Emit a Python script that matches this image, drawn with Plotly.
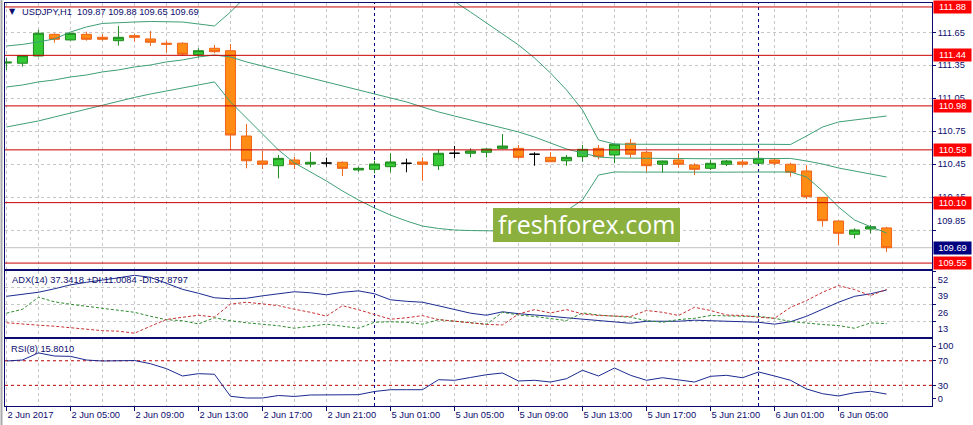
import plotly.graph_objects as go

# ---------------- data (USDJPY H1, bars 0..55) ----------------
opens = [111.370, 111.368, 111.434, 111.631, 111.580, 111.631, 111.604, 111.573, 111.619, 111.589,
         111.550, 111.550, 111.446, 111.504, 111.482, 110.706, 110.479, 110.436, 110.488, 110.451,
         110.460, 110.467, 110.397, 110.403, 110.427, 110.458, 110.470, 110.436, 110.549, 110.549,
         110.558, 110.594, 110.594, 110.540, 110.512, 110.481, 110.518, 110.594, 110.533, 110.640,
         110.558, 110.449, 110.488, 110.442, 110.412, 110.449, 110.470, 110.458, 110.488, 110.449,
         110.388, 110.148, 109.933, 109.812, 109.860, 109.870]
highs = [111.416, 111.443, 111.671, 111.640, 111.645, 111.655, 111.634, 111.707, 111.634, 111.662,
         111.573, 111.559, 111.504, 111.534, 111.543, 110.815, 110.572, 110.533, 110.518, 110.558,
         110.509, 110.475, 110.427, 110.482, 110.549, 110.500, 110.512, 110.585, 110.615, 110.594,
         110.594, 110.724, 110.624, 110.558, 110.558, 110.533, 110.624, 110.624, 110.635, 110.679,
         110.572, 110.482, 110.543, 110.458, 110.488, 110.488, 110.488, 110.549, 110.497, 110.463,
         110.442, 110.150, 109.935, 109.866, 109.897, 109.880]
lows = [111.307, 111.337, 111.430, 111.555, 111.575, 111.573, 111.573, 111.528, 111.564, 111.525,
        111.464, 111.434, 111.422, 111.459, 110.579, 110.412, 110.406, 110.321, 110.406, 110.421,
        110.427, 110.342, 110.381, 110.367, 110.376, 110.376, 110.299, 110.397, 110.503, 110.512,
        110.512, 110.585, 110.497, 110.436, 110.472, 110.436, 110.472, 110.494, 110.458, 110.509,
        110.381, 110.372, 110.418, 110.351, 110.397, 110.433, 110.427, 110.452, 110.442, 110.336,
        110.133, 109.881, 109.714, 109.775, 109.821, 109.650]
closes = [111.378, 111.437, 111.641, 111.586, 111.640, 111.586, 111.586, 111.604, 111.604, 111.559,
          111.541, 111.450, 111.482, 111.473, 110.715, 110.481, 110.449, 110.503, 110.449, 110.467,
          110.460, 110.412, 110.412, 110.451, 110.470, 110.458, 110.449, 110.549, 110.549, 110.570,
          110.588, 110.615, 110.512, 110.540, 110.472, 110.512, 110.585, 110.518, 110.631, 110.540,
          110.436, 110.479, 110.449, 110.403, 110.458, 110.479, 110.449, 110.503, 110.458, 110.376,
          110.154, 109.936, 109.821, 109.851, 109.881, 109.690]

bb_upper = [111.525, 111.539, 111.562, 111.589, 111.652, 111.698, 111.730, 111.739, 111.743, 111.748,
            111.748, 111.743, 111.725, 111.707, 111.834, 111.980, 112.000, 112.050, 112.080, 112.090,
            112.090, 112.090, 112.100, 112.100, 112.090, 112.070, 112.050, 112.000, 111.930, 111.834,
            111.734, 111.634, 111.534, 111.416, 111.279, 111.125, 110.943, 110.670, 110.633, 110.631,
            110.630, 110.630, 110.629, 110.629, 110.628, 110.629, 110.630, 110.631, 110.631, 110.629,
            110.706, 110.788, 110.834, 110.852, 110.870, 110.888]
bb_middle = [111.152, 111.170, 111.198, 111.216, 111.243, 111.261, 111.289, 111.307, 111.334, 111.352,
             111.380, 111.398, 111.425, 111.443, 111.425, 111.380, 111.343, 111.307, 111.270, 111.234,
             111.198, 111.161, 111.125, 111.088, 111.052, 111.016, 110.970, 110.925, 110.888, 110.852,
             110.815, 110.779, 110.743, 110.697, 110.642, 110.588, 110.552, 110.515, 110.506, 110.504,
             110.503, 110.501, 110.500, 110.499, 110.499, 110.500, 110.502, 110.503, 110.504, 110.502,
             110.479, 110.451, 110.415, 110.388, 110.360, 110.333]
bb_lower = [110.788, 110.815, 110.843, 110.879, 110.915, 110.952, 110.988, 111.025, 111.057, 111.088,
            111.116, 111.143, 111.170, 111.198, 111.016, 110.870, 110.724, 110.579, 110.461, 110.379,
            110.297, 110.206, 110.124, 110.051, 109.987, 109.933, 109.887, 109.865, 109.851, 109.846,
            109.842, 109.842, 109.842, 109.862, 109.930, 110.030, 110.124, 110.351, 110.379, 110.378,
            110.377, 110.376, 110.376, 110.375, 110.376, 110.377, 110.378, 110.379, 110.380, 110.379,
            110.333, 110.206, 110.060, 109.942, 109.881, 109.824]

adx = [32.4, 34.0, 35.6, 38.3, 41.4, 43.4, 45.0, 46.9, 48.9, 47.3, 42.6, 37.9, 34.8, 31.3, 30.5,
       30.9, 32.8, 34.4, 36.0, 35.2, 33.6, 35.6, 36.7, 34.4, 29.7, 28.5, 27.8, 25.0, 22.3, 19.2,
       17.6, 20.3, 18.8, 18.0, 16.8, 15.6, 14.5, 13.7, 12.1, 11.3, 12.9, 12.9, 12.9, 13.7, 13.3,
       12.9, 12.5, 12.1, 10.6, 12.5, 16.8, 22.3, 27.8, 32.4, 34.4, 37.3]
plus_di = [19.2, 22.3, 31.7, 28.1, 26.2, 24.6, 22.7, 21.5, 19.9, 16.8, 14.1, 13.3, 10.8, 15.6, 13.3,
           11.7, 10.6, 9.4, 7.4, 9.0, 10.6, 9.0, 7.4, 12.1, 12.5, 12.1, 10.6, 14.1, 12.9, 11.7,
           10.6, 19.9, 17.8, 16.6, 15.2, 13.4, 19.4, 17.8, 16.8, 16.0, 13.4, 12.1, 14.2, 15.2, 17.4,
           17.0, 16.8, 16.8, 15.2, 12.7, 11.3, 10.3, 9.5, 7.4, 11.6, 11.0]
minus_di = [11.7, 10.6, 9.8, 9.0, 7.8, 6.6, 5.5, 5.1, 3.5, 9.0, 14.3, 16.0, 17.6, 16.2, 26.3,
            27.8, 26.6, 25.1, 22.3, 19.9, 16.9, 25.1, 21.9, 17.9, 14.5, 15.6, 17.3, 14.2, 12.9, 11.3,
            10.4, 10.0, 18.6, 22.0, 19.4, 22.0, 18.6, 17.4, 16.8, 16.6, 21.3, 19.9, 17.4, 23.8, 21.3,
            17.8, 17.4, 16.0, 15.2, 23.8, 29.1, 35.6, 40.8, 37.7, 33.0, 37.9]
rsi = [69.6, 71.2, 82.8, 77.7, 77.2, 71.2, 69.6, 70.4, 70.4, 65.2, 57.1, 45.2, 49.0, 48.0, 12.2,
       9.4, 9.4, 13.5, 11.9, 14.3, 14.8, 14.8, 14.8, 20.0, 22.9, 22.9, 22.9, 39.2, 38.2, 42.8,
       47.3, 50.1, 37.1, 38.2, 35.4, 40.8, 54.5, 45.2, 58.2, 46.3, 38.2, 42.4, 39.2, 35.4, 44.7,
       46.3, 42.4, 51.7, 45.2, 38.2, 24.1, 16.4, 12.7, 18.0, 20.3, 15.8]

levels = [111.88, 111.44, 110.98, 110.58, 110.10, 109.55]
bid_price = 109.69
price_ticks = [111.65, 111.35, 111.05, 110.75, 110.45, 110.15, 109.85]
price_tick_text = ["111.65", "111.35", "111.05", "110.75", "110.45", "110.15", ""]
shifted_label = (109.85, "109.85")
x_tick_bars = [0, 4, 8, 12, 16, 20, 24, 28, 32, 36, 40, 44, 48, 52]
x_tick_text = ["2 Jun 2017", "2 Jun 05:00", "2 Jun 09:00", "2 Jun 13:00", "2 Jun 17:00",
               "2 Jun 21:00", "5 Jun 01:00", "5 Jun 05:00", "5 Jun 09:00", "5 Jun 13:00",
               "5 Jun 17:00", "5 Jun 21:00", "6 Jun 01:00", "6 Jun 05:00"]
day_separator_bars = [23, 47]
adx_ticks = [52, 39, 26, 13]
rsi_levels = [70, 30]
rsi_tick_vals = [94, 70, 30, 9]
rsi_tick_text = ["100", "70", "30", "0"]

# ---------------- styling ----------------
NAVY = "#0c0c6e"
GRID = "#c6c6c6"
FONT = "Liberation Sans, Arial, sans-serif"
FS = 9.3
W, H = 973, 425
ML, MR, MT, MB = 5, 41, 3, 19
PW = W - ML - MR
PH = H - MT - MB


def px_x(px):
    return (px - ML) / PW


def px_y(py):
    return (H - MB - py) / PH


n = len(opens)
idx = list(range(n))
doji = [i for i in idx if opens[i] == closes[i]]
body = [i for i in idx if opens[i] != closes[i]]

fig = go.Figure()

# Bollinger bands
for band in (bb_upper, bb_middle, bb_lower):
    fig.add_trace(go.Scatter(x=idx, y=band, mode="lines", xaxis="x", yaxis="y",
                             line=dict(color="#3f9f76", width=1), hoverinfo="skip",
                             showlegend=False))

fig.add_trace(go.Candlestick(
    x=body, open=[opens[i] for i in body], high=[highs[i] for i in body],
    low=[lows[i] for i in body], close=[closes[i] for i in body],
    increasing=dict(line=dict(color="#1f8a1f", width=1), fillcolor="#35c935"),
    decreasing=dict(line=dict(color="#f0641a", width=1), fillcolor="#ff8c14"),
    whiskerwidth=0, xaxis="x", yaxis="y", showlegend=False, hoverinfo="skip"))
fig.add_trace(go.Candlestick(
    x=doji, open=[opens[i] for i in doji], high=[highs[i] for i in doji],
    low=[lows[i] for i in doji], close=[closes[i] for i in doji],
    increasing=dict(line=dict(color="#000000", width=1), fillcolor="#000000"),
    decreasing=dict(line=dict(color="#000000", width=1), fillcolor="#000000"),
    whiskerwidth=0, xaxis="x", yaxis="y", showlegend=False, hoverinfo="skip"))

# ADX panel
fig.add_trace(go.Scatter(x=idx, y=adx, mode="lines", xaxis="x2", yaxis="y2",
                         line=dict(color="#1b2a90", width=1), hoverinfo="skip", showlegend=False))
fig.add_trace(go.Scatter(x=idx, y=plus_di, mode="lines", xaxis="x2", yaxis="y2",
                         line=dict(color="#2e8b2e", width=1, dash="3px,2px"), hoverinfo="skip",
                         showlegend=False))
fig.add_trace(go.Scatter(x=idx, y=minus_di, mode="lines", xaxis="x2", yaxis="y2",
                         line=dict(color="#c83030", width=1, dash="3px,2px"), hoverinfo="skip",
                         showlegend=False))

# RSI panel
fig.add_trace(go.Scatter(x=idx, y=rsi, mode="lines", xaxis="x3", yaxis="y3",
                         line=dict(color="#1b2a90", width=1), hoverinfo="skip", showlegend=False))

shapes = []
annotations = []

# price levels
for lv in levels:
    shapes.append(dict(type="line", xref="paper", x0=0, x1=1, yref="y", y0=lv, y1=lv,
                       line=dict(color="#c80000", width=1), layer="above"))
    annotations.append(dict(x=1, xref="paper", xanchor="left", xshift=1, y=lv, yref="y",
                            yanchor="middle", text=f"{lv:.2f}", showarrow=False,
                            bgcolor="#ff0000", font=dict(color="white", size=FS, family=FONT),
                            width=35, height=10, borderpad=1, align="center"))
# bid line
shapes.append(dict(type="line", xref="paper", x0=0, x1=1, yref="y", y0=bid_price, y1=bid_price,
                   line=dict(color="#c0c0c0", width=1), layer="below"))
annotations.append(dict(x=1, xref="paper", xanchor="left", xshift=1, y=bid_price, yref="y",
                        yanchor="middle", text=f"{bid_price:.2f}", showarrow=False,
                        bgcolor="#000080", font=dict(color="white", size=FS, family=FONT),
                        width=35, height=10, borderpad=1, align="center"))
annotations.append(dict(x=1, xref="paper", xanchor="left", xshift=3, y=shifted_label[0], yref="y",
                        yshift=9, text=shifted_label[1], showarrow=False,
                        font=dict(color=NAVY, size=FS, family=FONT)))

# RSI level lines
for lv in rsi_levels:
    shapes.append(dict(type="line", xref="paper", x0=0, x1=1, yref="y3", y0=lv, y1=lv,
                       line=dict(color="#c00000", width=1, dash="3px,3px"), layer="below"))

# day separators
for b in day_separator_bars:
    shapes.append(dict(type="line", xref="x", x0=b, x1=b, yref="paper", y0=0, y1=1,
                       line=dict(color="#000080", width=1, dash="3px,3px"), layer="below"))

# window left border
shapes.append(dict(type="line", xref="paper", x0=px_x(1.5), x1=px_x(1.5), yref="paper",
                   y0=px_y(425), y1=px_y(0), line=dict(color="#a8a8a8", width=2)))

# watermark
shapes.append(dict(type="rect", xref="paper", yref="paper", x0=px_x(493), x1=px_x(680),
                   y0=px_y(242), y1=px_y(208), fillcolor="#8bb03e", line=dict(width=0),
                   layer="above"))
annotations.append(dict(x=px_x(586.5), y=px_y(224), xref="paper", yref="paper",
                        text="freshforex.com", showarrow=False, xanchor="center", yanchor="middle",
                        font=dict(color="white", size=25, family="Open Sans, Noto Sans, sans-serif")))

# headers
annotations.append(dict(x=px_x(12.5), y=px_y(12), xref="paper", yref="paper", text="▼",
                        showarrow=False, xanchor="center", yanchor="middle",
                        font=dict(color=NAVY, size=8, family="DejaVu Sans")))
annotations.append(dict(x=px_x(20), y=px_y(12), xref="paper", yref="paper",
                        text="USDJPY,H1  109.87 109.88 109.65 109.69",
                        showarrow=False, xanchor="left", yanchor="middle",
                        font=dict(color=NAVY, size=FS, family=FONT)))
annotations.append(dict(x=px_x(10), y=px_y(280), xref="paper", yref="paper",
                        text="ADX(14) 37.3418 +DI:11.0084 -DI:37.8797",
                        showarrow=False, xanchor="left", yanchor="middle",
                        font=dict(color=NAVY, size=FS, family=FONT)))
annotations.append(dict(x=px_x(9), y=px_y(349), xref="paper", yref="paper",
                        text="RSI(8) 15.8010",
                        showarrow=False, xanchor="left", yanchor="middle",
                        font=dict(color=NAVY, size=FS, family=FONT)))

xr = [-0.09, 57.84]
minor_grid = dict(tickvals=list(range(0, 58, 2)), showgrid=True, gridcolor=GRID,
                  griddash="3px,3px", gridwidth=1, ticks="")
common_x = dict(range=xr, showline=True, mirror=True, linecolor=NAVY, linewidth=1,
                tickmode="array", tickvals=x_tick_bars, showgrid=True, gridcolor=GRID,
                griddash="3px,3px", gridwidth=1, zeroline=False, minor=minor_grid,
                fixedrange=True)

main_dom = [px_y(268.7), 1]
adx_dom = [px_y(337), px_y(271.3)]
rsi_dom = [0, px_y(339.3)]

fig.update_layout(
    width=W, height=H, autosize=False,
    margin=dict(l=ML, r=MR, t=MT, b=MB, pad=0, autoexpand=False),
    paper_bgcolor="white", plot_bgcolor="white",
    showlegend=False, hovermode=False,
    boxgap=0.375, boxgroupgap=0,
    font=dict(family=FONT, size=FS, color=NAVY),
    xaxis=dict(domain=[0, 1], anchor="y", showticklabels=False, ticks="",
               rangeslider=dict(visible=False), **common_x),
    xaxis2=dict(domain=[0, 1], anchor="y2", matches="x", showticklabels=False, ticks="",
                **common_x),
    xaxis3=dict(domain=[0, 1], anchor="y3", matches="x", ticktext=x_tick_text,
                ticks="outside", ticklen=4, tickcolor=NAVY, ticklabelposition="outside right",
                tickfont=dict(color=NAVY, size=FS, family=FONT), **common_x),
    yaxis=dict(domain=main_dom, anchor="x", side="right", range=[109.499, 111.916],
               tickmode="array", tickvals=price_ticks, ticktext=price_tick_text,
               showgrid=True, gridcolor=GRID, griddash="3px,3px", zeroline=False,
               ticks="outside", ticklen=3, tickcolor=NAVY, showline=True, mirror=True,
               linecolor=NAVY, tickfont=dict(color=NAVY, size=FS, family=FONT), fixedrange=True),
    yaxis2=dict(domain=adx_dom, anchor="x2", side="right", range=[0.55, 52.02],
                tickmode="array", tickvals=adx_ticks, ticktext=[str(v) for v in adx_ticks],
                showgrid=True, gridcolor=GRID, griddash="3px,3px", zeroline=False,
                ticks="outside", ticklen=3, tickcolor=NAVY, showline=True, mirror=True,
                linecolor=NAVY, ticklabelshift=8,
                tickfont=dict(color=NAVY, size=FS, family=FONT), fixedrange=True),
    yaxis3=dict(domain=rsi_dom, anchor="x3", side="right", range=[-3.6, 104.9],
                tickmode="array", tickvals=rsi_tick_vals, ticktext=rsi_tick_text,
                showgrid=False, zeroline=False,
                ticks="outside", ticklen=3, tickcolor=NAVY, showline=True, mirror=True,
                linecolor=NAVY, tickfont=dict(color=NAVY, size=FS, family=FONT), fixedrange=True),
    shapes=shapes, annotations=annotations,
)

fig.write_html("out.html", config={"displayModeBar": False, "staticPlot": True},
               post_script="document.body.style.margin='0';document.body.style.padding='0';"
                           "document.documentElement.style.overflow='hidden';")
